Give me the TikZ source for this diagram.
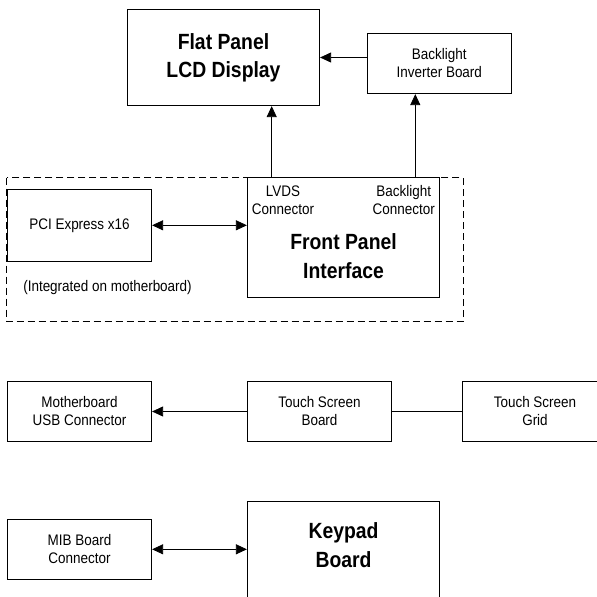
\documentclass[tikz,border=0pt]{standalone}
\usepackage{fontspec}
\setmainfont{Liberation Sans}[FakeStretch=0.88]
\usepackage{tikz}
\usetikzlibrary{arrows.meta}

\begin{document}
\begin{tikzpicture}[x=1pt,y=-1pt,
  box/.style={draw, line width=0.8pt, inner sep=0pt, align=center,
    minimum width=144.4pt, minimum height=60pt,
    font=\fontsize{15.3}{18}\selectfont},
  big/.style={align=center, inner sep=0pt, font=\fontsize{22}{28.3}\selectfont\bfseries},
  small/.style={align=center, inner sep=0pt, font=\fontsize{15.3}{18}\selectfont},
  tip/.style={line width=0.8pt, -{Triangle[length=11pt,width=10pt]}},
  both/.style={line width=0.8pt, {Triangle[length=11pt,width=10pt]}-{Triangle[length=11pt,width=10pt]}}]
\clip (0,0) rectangle (597,597);
\node [box, minimum width=192.4pt, minimum height=96.4pt, big] (lcd) at (223.5,57.5) {Flat Panel\\LCD Display};
\node [box, minimum height=60.4pt] (inverter) at (439.3,63.5) {Backlight\\Inverter Board};
\draw [tip] (inverter.west |- lcd.east) -- (lcd.east);
\draw [line width=0.8pt, dash pattern=on 7pt off 4pt] (6.7,177.7) rectangle (463,321.7);
\node [box, minimum width=192.4pt, minimum height=120pt] (fpi) at (343.5,237.7) {};
\node [small] (lvds) at (283,200) {LVDS\\Connector};
\node [small] (blconn) at (403.7,200) {Backlight\\Connector};
\node [big] (fpitext) at (343.5,256) {Front Panel\\Interface};
\coordinate (lvdsout) at (271.7,177.7);
\coordinate (blout) at (415.3,177.7);
\draw [tip] (lvdsout) -- (lvdsout |- lcd.south);
\draw [tip] (blout) -- (blout |- inverter.south);
\node [box, minimum height=72pt] (pci) at (79.5,225.3) {PCI Express x16};
\draw [both] (pci.east) -- (pci.east -| fpi.west);
\node [small] (integrated) at (107.5,287.3) {(Integrated on motherboard)};
\node [box] (usb) at (79.5,411.5) {Motherboard\\USB Connector};
\node [box] (tsboard) at (319.5,411.5) {Touch Screen\\Board};
\node [box] (tsgrid) at (535,411.5) {Touch Screen\\Grid};
\draw [tip] (tsboard.west) -- (usb.east);
\draw [line width=0.8pt] (tsboard.east) -- (tsgrid.west);
\node [box] (mib) at (79.5,549.3) {MIB Board\\Connector};
\node [box, minimum width=192.4pt, minimum height=120pt] (keypad) at (343.5,561.7) {};
\node [big] (keypadtext) at (343.5,545) {Keypad\\Board};
\draw [both] (mib.east) -- (mib.east -| keypad.west);
\end{tikzpicture}
\end{document}
